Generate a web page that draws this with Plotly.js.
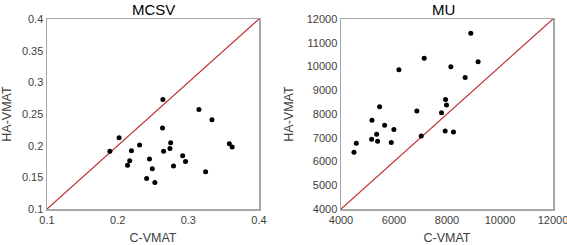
<!DOCTYPE html>
<html>
<head>
<meta charset="utf-8">
<script src="https://cdn.plot.ly/plotly-3.0.1.min.js"></script>
<style>html,body{margin:0;padding:0;background:#fff;}#chart{width:567px;height:245px;}</style>
</head>
<body>
<div id="chart"></div>
<script>
// MCSV panel data (C-VMAT vs HA-VMAT)
const mcsvC  = [0.189,0.202,0.214,0.217,0.2195,0.231,0.241,0.245,0.249,0.2526,0.264,0.2635,0.265,0.275,0.274,0.279,0.292,0.296,0.315,0.3244,0.3334,0.358,0.362];
const mcsvHA = [0.191,0.2125,0.169,0.176,0.192,0.201,0.148,0.179,0.1636,0.142,0.273,0.228,0.191,0.2046,0.1956,0.168,0.184,0.175,0.257,0.159,0.241,0.203,0.198];
// MU panel data
const muC  = [4490,4578,5168,5457,5344,5155,5381,5645,5997,5896,6185,7140,6863,7027,7793,7944,7981,7931,8245,8145,8685,8898,9174];
const muHA = [6392,6769,7734,8308,7147,6937,6853,7524,7343,6797,9860,10350,8126,7077,8056,8615,8378,7287,7245,9986,9538,11398,10196];
// identity lines (y = x) across each axis range
const mcsvRange = [0.1, 0.4];
const muRange = [4000, 12000];
const mcsvYTicks = [0.1, 0.15, 0.2, 0.25, 0.3, 0.35, 0.4];
const mcsvYLabels = ['0.1', '0.15', '0.2', '0.25', '0.3', '0.35', '0.4'];
const mcsvXTicks = [0.1, 0.2, 0.3, 0.4];
const mcsvXLabels = ['0.1', '0.2', '0.3', '0.4'];
const muYTicks = [4000,5000,6000,7000,8000,9000,10000,11000,12000];
const muYLabels = ['4000','5000','6000','7000','8000','9000','10000','11000','12000'];
const muXTicks = [4000,6000,8000,10000,12000];
const muXLabels = ['4000','6000','8000','10000','12000'];
const titles = ['MCSV', 'MU'];
const xTitle = 'C-VMAT';
const yTitle = 'HA-VMAT';

const FONT = 'Liberation Sans, Arial, sans-serif';
const tickFont = {family: FONT, size: 11, color: '#404040'};
const titleFont = {family: FONT, size: 12.5, color: '#404040'};
const lineRed = '#c0282d';
const frame = '#a6a6a6';

const traces = [
  {x: mcsvRange, y: mcsvRange, mode: 'lines', line: {color: lineRed, width: 1.2}, xaxis: 'x', yaxis: 'y', hoverinfo: 'skip'},
  {x: mcsvC, y: mcsvHA, mode: 'markers', marker: {color: '#000', size: 5}, xaxis: 'x', yaxis: 'y'},
  {x: muRange, y: muRange, mode: 'lines', line: {color: lineRed, width: 1.2}, xaxis: 'x2', yaxis: 'y2', hoverinfo: 'skip'},
  {x: muC, y: muHA, mode: 'markers', marker: {color: '#000', size: 5}, xaxis: 'x2', yaxis: 'y2'}
];

function axis(range, ticks, labels, domain, anchor, titleText, standoff) {
  return {
    range: range, domain: domain, anchor: anchor,
    tickmode: 'array', tickvals: ticks, ticktext: labels,
    showgrid: false, zeroline: false, showline: true, mirror: true,
    linecolor: frame, linewidth: 1.5, ticks: '', tickfont: tickFont,
    ticklabeloverflow: 'allow',
    title: {text: titleText, font: titleFont, standoff: standoff}
  };
}
const yDom = [(245-209)/245, (245-19)/245];
const layout = {
  width: 567, height: 245,
  margin: {l: 0, r: 0, t: 0, b: 0},
  paper_bgcolor: '#fff', plot_bgcolor: '#fff',
  showlegend: false,
  xaxis: axis(mcsvRange, mcsvXTicks, mcsvXLabels, [47/567, 259/567], 'y', xTitle, 12),
  yaxis: axis(mcsvRange, mcsvYTicks, mcsvYLabels, yDom, 'x', yTitle, 10),
  xaxis2: axis(muRange, muXTicks, muXLabels, [341/567, 553/567], 'y2', xTitle, 12),
  yaxis2: axis(muRange, muYTicks, muYLabels, yDom, 'x2', yTitle, 10),
  annotations: titles.map((t, i) => ({
    text: t, xref: 'paper', yref: 'paper',
    x: i === 0 ? 153/567 : 443/567, y: (245-9)/245,
    xanchor: 'center', yanchor: 'middle', showarrow: false,
    font: {family: FONT, size: 15, color: '#000'}
  }))
};
Plotly.newPlot('chart', traces, layout, {staticPlot: true, displayModeBar: false});
</script>
</body>
</html>
